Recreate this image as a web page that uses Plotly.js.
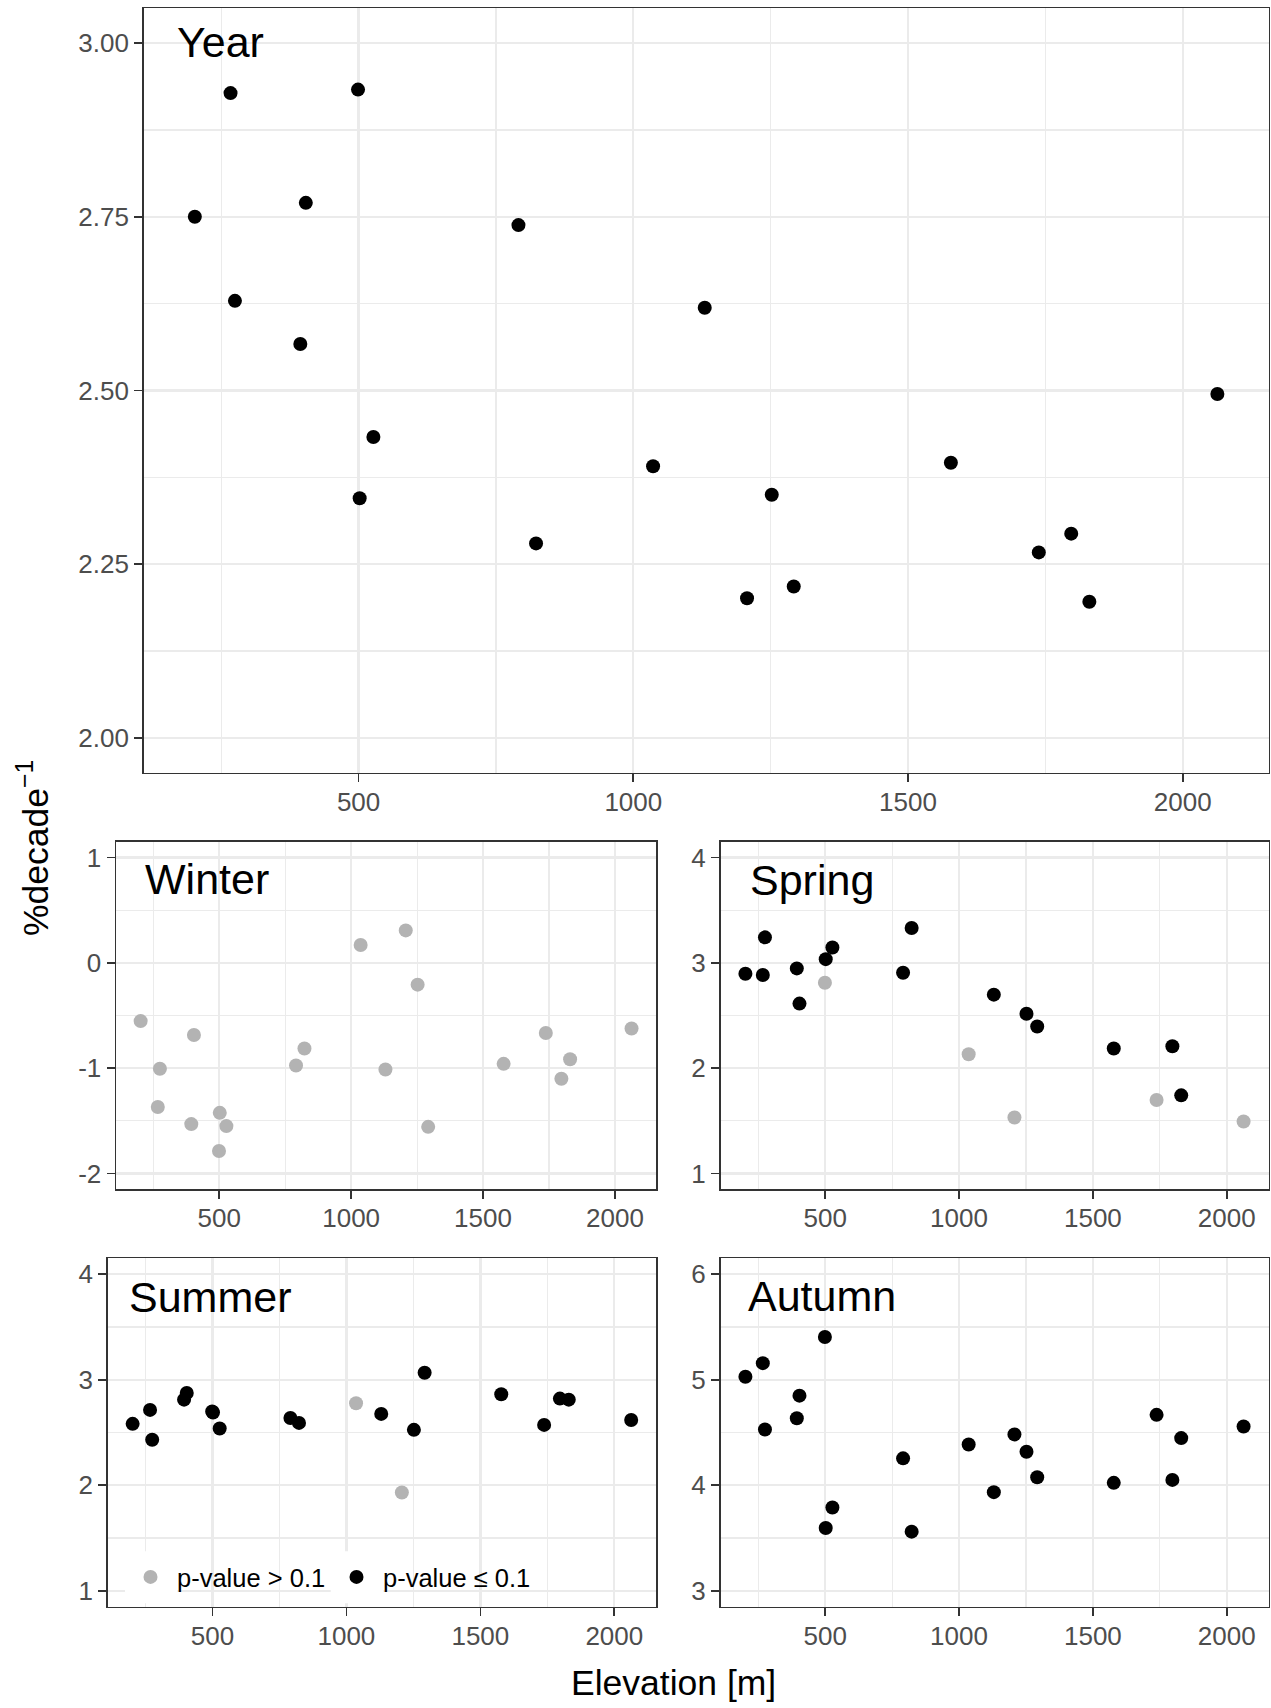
<!DOCTYPE html>
<html><head><meta charset="utf-8">
<script src="https://cdn.plot.ly/plotly-3.0.1.min.js"></script>
<style>html,body{margin:0;padding:0;background:#fff}#chart{width:1271px;height:1708px}</style>
</head><body><div id="chart"></div>
<script>
// ---- data ----
const elevation = [202, 267, 275, 394, 404, 499, 502, 527, 791, 823, 1036, 1130, 1207, 1252, 1292, 1578, 1738, 1797, 1830, 2063];
const yearTrend   = [2.750, 2.928, 2.629, 2.567, 2.770, 2.933, 2.345, 2.433, 2.738, 2.280, 2.391, 2.619, 2.201, 2.350, 2.218, 2.396, 2.267, 2.294, 2.196, 2.495];
const winterTrend = [-0.553, -1.368, -1.006, -1.531, -0.685, -1.786, -1.424, -1.550, -0.975, -0.814, 0.170, -1.012, 0.308, -0.207, -1.557, -0.959, -0.666, -1.100, -0.915, -0.623];
const springTrend = [2.896, 2.884, 3.242, 2.947, 2.613, 2.811, 3.035, 3.145, 2.906, 3.330, 2.132, 2.698, 1.532, 2.516, 2.396, 2.186, 1.698, 2.208, 1.742, 1.494];
const summerTrend = [2.582, 2.714, 2.431, 2.811, 2.874, 2.700, 2.690, 2.538, 2.638, 2.591, 2.777, 2.676, 1.931, 2.525, 3.066, 2.862, 2.572, 2.821, 2.811, 2.619];
const autumnTrend = [5.028, 5.157, 4.529, 4.635, 4.849, 5.405, 3.596, 3.790, 4.255, 3.561, 4.387, 3.935, 4.482, 4.318, 4.076, 4.023, 4.667, 4.051, 4.447, 4.557];
// 1 = p-value <= 0.1, 0 = p-value > 0.1
const yearSig   = [1,1,1,1,1,1,1,1,1,1,1,1,1,1,1,1,1,1,1,1];
const winterSig = [0,0,0,0,0,0,0,0,0,0,0,0,0,0,0,0,0,0,0,0];
const springSig = [1,1,1,1,1,0,1,1,1,1,0,1,0,1,1,1,0,1,1,0];
const summerSig = [1,1,1,1,1,1,1,1,1,1,0,1,0,1,1,1,1,1,1,1];
const autumnSig = [1,1,1,1,1,1,1,1,1,1,1,1,1,1,1,1,1,1,1,1];
const panelNames = ['Year', 'Winter', 'Spring', 'Summer', 'Autumn'];
const legendLabels = ['p-value > 0.1', 'p-value \u2264 0.1'];
const xTitle = 'Elevation [m]';
const yTitle = '%decade<sup>\u22121</sup>';
const yLimits = [[2, 3], [-2, 1], [1, 4], [1, 4], [3, 6]];
const yMajor = [0.25, 1, 1, 1, 1];

// ---- layout helpers ----
const W = 1271, H = 1708;
const fx = p => p / W;
const fy = p => 1 - p / H;
const FONT = 'Liberation Sans, Arial, Helvetica, sans-serif';
const GREY = '#B3B3B3', BLACK = '#000000';

const values = [yearTrend, winterTrend, springTrend, summerTrend, autumnTrend];
const sigs = [yearSig, winterSig, springSig, summerSig, autumnSig];
// panel boxes in pixels: [left, right, top, bottom]
const boxes = [
  [143.7, 1268.5, 8.3, 772.7],
  [116.1, 656.1, 841.7, 1189.3],
  [720.5, 1268.5, 841.7, 1189.3],
  [107.7, 656.1, 1258.3, 1606.7],
  [720.5, 1268.5, 1258.3, 1606.7]
];
const labelPos = [[174.5, 42.5], [142.6, 879.2], [747.5, 879.5], [127, 1297], [746.5, 1296.2]];

const xmin = Math.min(...elevation), xmax = Math.max(...elevation);
const xpad = 0.05 * (xmax - xmin);
const xRange = [xmin - xpad, xmax + xpad];

const traces = [];
const layout = {
  width: W, height: H,
  margin: {l: 0, r: 0, t: 0, b: 0},
  paper_bgcolor: '#ffffff', plot_bgcolor: '#ffffff',
  font: {family: FONT, color: '#000'},
  showlegend: true,
  legend: {
    orientation: 'h', x: fx(124), xanchor: 'left', y: fy(1577.3), yanchor: 'middle',
    bgcolor: 'rgba(0,0,0,0)', borderwidth: 0, font: {family: FONT, size: 25.5, color: '#000'},
    itemwidth: 43, entrywidth: 148, entrywidthmode: 'pixels', traceorder: 'normal'
  },
  annotations: [], shapes: []
};

function axisCommon() {
  return {
    showline: true, mirror: true, linecolor: '#333333', linewidth: 1.6,
    ticks: 'outside', ticklen: 8, tickwidth: 1.6, tickcolor: '#333333',
    showgrid: true, gridcolor: '#EBEBEB', gridwidth: 2.4, zeroline: false,
    tickfont: {family: FONT, size: 26, color: '#4D4D4D'},
    fixedrange: true
  };
}

function tickSet(lo, hi, step, digits) {
  const vals = [], txt = [];
  const n0 = Math.ceil(lo / step - 1e-9), n1 = Math.floor(hi / step + 1e-9);
  for (let n = n0; n <= n1; n++) {
    const v = +(n * step).toFixed(6);
    vals.push(v);
    txt.push(v.toFixed(digits));
  }
  return {vals, txt};
}

panelNames.forEach((name, i) => {
  const s = i === 0 ? '' : String(i + 1);
  const b = boxes[i];
  const lim = yLimits[i];
  const ypad = 0.05 * (lim[1] - lim[0]);
  const xa = Object.assign(axisCommon(), {
    domain: [fx(b[0]), fx(b[1])], range: xRange, anchor: 'y' + s,
    tick0: 0, dtick: 500, ticklabelstandoff: -3,
    minor: {dtick: 250, tick0: 0, showgrid: true, gridcolor: '#EBEBEB', gridwidth: 1.2}
  });
  const ts = tickSet(lim[0], lim[1], yMajor[i], i === 0 ? 2 : 0);
  const ya = Object.assign(axisCommon(), {
    domain: [fy(b[3]), fy(b[2])], range: [lim[0] - ypad, lim[1] + ypad], anchor: 'x' + s,
    tickmode: 'array', tickvals: ts.vals, ticktext: ts.txt,
    minor: {dtick: yMajor[i] / 2, tick0: 0, showgrid: true, gridcolor: '#EBEBEB', gridwidth: 1.2}
  });
  layout['xaxis' + s] = xa;
  layout['yaxis' + s] = ya;

  const v = values[i], sg = sigs[i];
  [0, 1].forEach(flag => {
    const xs = [], ys = [];
    elevation.forEach((e, k) => { if (sg[k] === flag) { xs.push(e); ys.push(v[k]); } });
    traces.push({
      type: 'scatter', mode: 'markers', x: xs, y: ys,
      xaxis: 'x' + s, yaxis: 'y' + s,
      name: legendLabels[flag], legendgroup: 'g' + flag,
      showlegend: name === 'Summer',
      marker: {color: flag ? BLACK : GREY, size: 14, line: {width: 0}},
      hoverinfo: 'x+y'
    });
  });

  layout.annotations.push({
    text: name, xref: 'paper', yref: 'paper', x: fx(labelPos[i][0]), y: fy(labelPos[i][1]),
    xanchor: 'left', yanchor: 'middle', showarrow: false,
    font: {family: FONT, size: 43, color: '#000'}
  });
});

// white legend key backgrounds (covering grid lines), inside Summer panel
[[0.0315, 0.1269], [0.4066, 0.5026]].forEach(k => {
  layout.shapes.push({
    type: 'rect', xref: 'x4 domain', yref: 'y4 domain', x0: k[0], x1: k[1], y0: 0.0098, y1: 0.159,
    fillcolor: '#ffffff', line: {width: 0}, layer: 'above'
  });
});

layout.annotations.push({
  text: xTitle, xref: 'paper', yref: 'paper', x: fx(673.3), y: fy(1682.5),
  xanchor: 'center', yanchor: 'middle', showarrow: false,
  font: {family: FONT, size: 35.5, color: '#000'}
});
layout.annotations.push({
  text: yTitle, xref: 'paper', yref: 'paper', x: fx(33), y: fy(848),
  xanchor: 'center', yanchor: 'middle', showarrow: false, textangle: -90,
  font: {family: FONT, size: 35.5, color: '#000'}
});

Plotly.newPlot('chart', traces, layout, {displayModeBar: false, staticPlot: true});
</script>
</body></html>
